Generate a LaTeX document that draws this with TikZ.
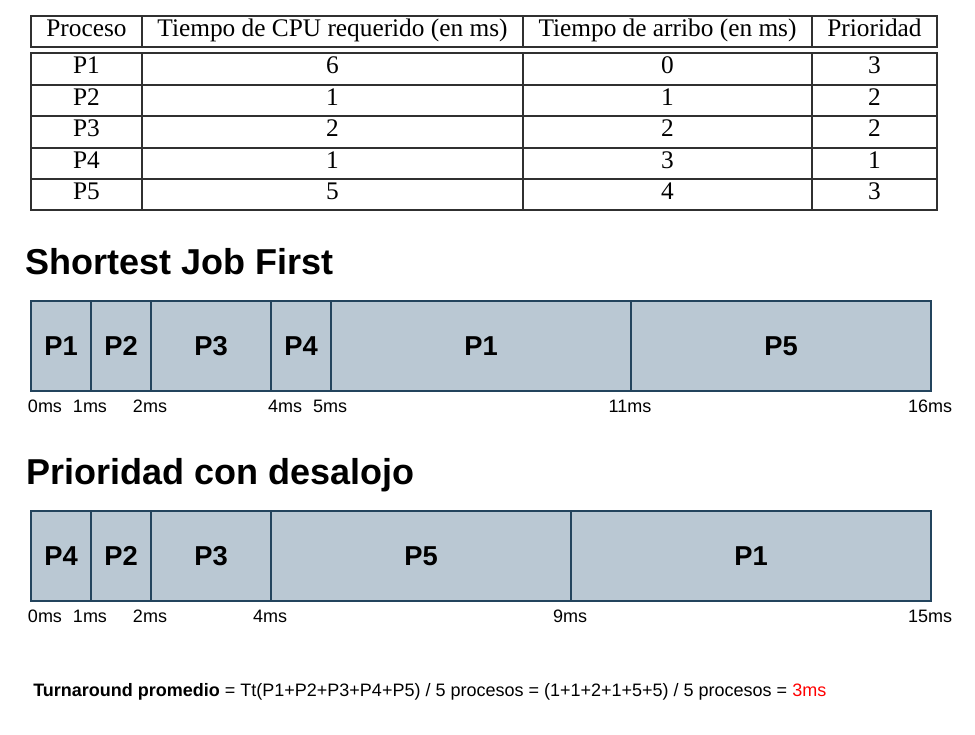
\documentclass[tikz,border=0pt]{standalone}
\usepackage{fontspec}
\setmainfont{Liberation Sans}
\newfontfamily\tablafont{Liberation Serif}
\usepackage{tikz}

\definecolor{relleno}{HTML}{BAC8D3}
\definecolor{borde}{HTML}{23445D}
\definecolor{linea}{HTML}{303030}

\begin{document}
\begin{tikzpicture}[x=0.75pt,y=0.75pt,yscale=-1,xscale=1,
    tarea/.style={draw=borde, fill=relleno, line width=1.1pt, inner sep=0pt, outer sep=0pt,
        minimum height=67.5pt, text height=14.6pt, text depth=0pt,
        font=\fontsize{20.5}{24}\selectfont\bfseries},
    tiempo/.style={anchor=base, inner sep=0.75pt, font=\fontsize{13.5}{16}\selectfont},
    titulo/.style={anchor=base west, inner sep=0pt, font=\fontsize{27}{32}\selectfont\bfseries},
    celda/.style={anchor=base, inner sep=0.75pt, font=\tablafont\fontsize{19}{22}\selectfont},
    tabla/.style={draw=linea, line width=1.1pt}]
        \useasboundingbox (0,0) rectangle (975,735);

        % Tabla de procesos
        \draw [tabla] (31,16) rectangle (937,47) ;
        \draw [tabla] (142,16) -- (142,47) (523,16) -- (523,47) (812,16) -- (812,47) ;
        \draw [tabla] (31,53) rectangle (937,210) ;
        \draw [tabla] (31,85) -- (937,85) (31,116) -- (937,116) (31,148) -- (937,148) (31,179) -- (937,179) ;
        \draw [tabla] (142,53) -- (142,210) (523,53) -- (523,210) (812,53) -- (812,210) ;

        % Encabezados
        \node [celda] (h1) at (86.5,37) {Proceso};
        \node [celda] (h2) at (332.5,37) {Tiempo de CPU requerido (en ms)};
        \node [celda] (h3) at (667.5,37) {Tiempo de arribo (en ms)};
        \node [celda] (h4) at (874.5,37) {Prioridad};
        % Filas
        \node [celda] (f1c1) at (86.5,73.5) {P1};
        \node [celda] (f1c2) at (332.5,73.5) {6};
        \node [celda] (f1c3) at (667.5,73.5) {0};
        \node [celda] (f1c4) at (874.5,73.5) {3};
        \node [celda] (f2c1) at (86.5,105) {P2};
        \node [celda] (f2c2) at (332.5,105) {1};
        \node [celda] (f2c3) at (667.5,105) {1};
        \node [celda] (f2c4) at (874.5,105) {2};
        \node [celda] (f3c1) at (86.5,136.5) {P3};
        \node [celda] (f3c2) at (332.5,136.5) {2};
        \node [celda] (f3c3) at (667.5,136.5) {2};
        \node [celda] (f3c4) at (874.5,136.5) {2};
        \node [celda] (f4c1) at (86.5,168) {P4};
        \node [celda] (f4c2) at (332.5,168) {1};
        \node [celda] (f4c3) at (667.5,168) {3};
        \node [celda] (f4c4) at (874.5,168) {1};
        \node [celda] (f5c1) at (86.5,199.5) {P5};
        \node [celda] (f5c2) at (332.5,199.5) {5};
        \node [celda] (f5c3) at (667.5,199.5) {4};
        \node [celda] (f5c4) at (874.5,199.5) {3};

        % Shortest Job First
        \node [titulo] (tsjf) at (25,274) {Shortest Job First};
        \node [tarea, minimum width=45pt] (sjf1) at (61,346) {P1};
        \node [tarea, minimum width=45pt] (sjf2) at (121,346) {P2};
        \node [tarea, minimum width=90pt] (sjf3) at (211,346) {P3};
        \node [tarea, minimum width=45pt] (sjf4) at (301,346) {P4};
        \node [tarea, minimum width=225pt] (sjf5) at (481,346) {P1};
        \node [tarea, minimum width=225pt] (sjf6) at (781,346) {P5};
        \node [tiempo] (s0) at (45,412) {0ms};
        \node [tiempo] (s1) at (90,412) {1ms};
        \node [tiempo] (s2) at (150,412) {2ms};
        \node [tiempo] (s4) at (285,412) {4ms};
        \node [tiempo] (s5) at (330,412) {5ms};
        \node [tiempo] (s11) at (630,412) {11ms};
        \node [tiempo] (s16) at (930,412) {16ms};

        % Prioridad con desalojo
        \node [titulo] (tpri) at (26,484) {Prioridad con desalojo};
        \node [tarea, minimum width=45pt] (pri1) at (61,556) {P4};
        \node [tarea, minimum width=45pt] (pri2) at (121,556) {P2};
        \node [tarea, minimum width=90pt] (pri3) at (211,556) {P3};
        \node [tarea, minimum width=225pt] (pri4) at (421,556) {P5};
        \node [tarea, minimum width=270pt] (pri5) at (751,556) {P1};
        \node [tiempo] (p0) at (45,622) {0ms};
        \node [tiempo] (p1) at (90,622) {1ms};
        \node [tiempo] (p2) at (150,622) {2ms};
        \node [tiempo] (p4) at (270,622) {4ms};
        \node [tiempo] (p9) at (570,622) {9ms};
        \node [tiempo] (p15) at (930,622) {15ms};

        % Turnaround
        \node [anchor=base west, inner sep=0pt, font=\fontsize{13.5}{16}\selectfont] (turn) at (33,696)
            {\textbf{Turnaround promedio} = Tt(P1+P2+P3+P4+P5) / 5 procesos = (1+1+2+1+5+5) / 5 procesos = \textcolor{red}{3ms}};

\end{tikzpicture}
\end{document}
